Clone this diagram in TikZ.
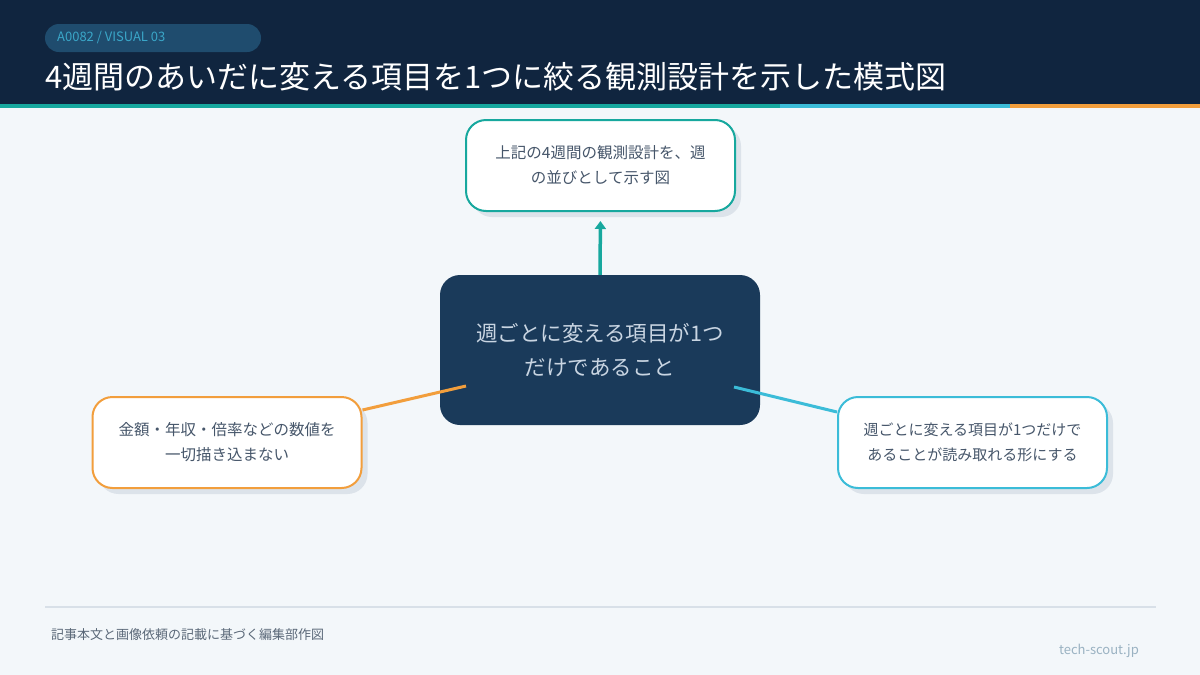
\documentclass[tikz,border=0pt]{standalone}
\usepackage{fontspec}
\setmainfont{Noto Sans CJK JP}
\usetikzlibrary{arrows.meta,shadows}
\definecolor{bgc}{HTML}{F3F7FA}
\definecolor{headc}{HTML}{10253F}
\definecolor{badgec}{HTML}{1F4C6E}
\definecolor{badgetxt}{HTML}{3AA6C8}
\definecolor{tealc}{HTML}{17A89E}
\definecolor{bluec}{HTML}{3BBCD8}
\definecolor{orangec}{HTML}{F29E3C}
\definecolor{navyc}{HTML}{1A3A5A}
\definecolor{centertxt}{HTML}{C9D5E2}
\definecolor{boxtxt}{HTML}{46566A}
\definecolor{shadowc}{HTML}{DCE3EA}
\definecolor{rulec}{HTML}{D8E0E8}
\definecolor{foottxt}{HTML}{5A6878}
\definecolor{sitetxt}{HTML}{9AB2C2}
\tikzset{
  cardbox/.style={draw=#1, line width=2pt, fill=white, rounded corners=20pt,
    minimum width=269pt, minimum height=91pt, align=center, text=boxtxt,
    font=\fontsize{15.5}{25}\selectfont,
    general shadow={fill=shadowc, shadow xshift=6pt, shadow yshift=-6pt}},
  centerbox/.style={fill=navyc, rounded corners=20pt, minimum width=320pt,
    minimum height=150pt, align=center, text=centertxt,
    font=\fontsize{21.5}{34}\selectfont},
  conn/.style={line width=3pt, draw=#1},
}
\begin{document}
\begin{tikzpicture}[x=1pt,y=-1pt]
\useasboundingbox (0,0) rectangle (1200,675);
\fill[bgc] (0,0) rectangle (1200,675);
% header
\fill[headc] (0,0) rectangle (1200,104);
\fill[tealc] (0,104) rectangle (780,108);
\fill[bluec] (780,104) rectangle (1010,108);
\fill[orangec] (1010,104) rectangle (1200,108);
\node[fill=badgec, rounded corners=14pt, minimum width=216pt, minimum height=28pt,
  inner sep=0pt] (badge) at (153,38) {};
\node[anchor=west, text=badgetxt, font=\fontsize{13}{15}\selectfont, inner sep=0pt]
  (badgetext) at (57,38) {A0082 / VISUAL 03};
\node[anchor=base west, text=white, font=\fontsize{31}{36}\selectfont, inner sep=0pt]
  (title) at (45,88) {4週間のあいだに変える項目を1つに絞る観測設計を示した模式図};
% boxes
\node[centerbox] (center) at (600,350) {週ごとに変える項目が1つ\\だけであること};
\node[cardbox=tealc] (top) at (600.5,165.5) {上記の4週間の観測設計を、週\\の並びとして示す図};
\node[cardbox=orangec, font=\fontsize{15.5}{25}\selectfont] (left) at (227,442.5) {金額・年収・倍率などの数値を\\一切描き込まない};
\node[cardbox=bluec, font=\fontsize{15}{25}\selectfont] (right) at (972.5,442.5) {週ごとに変える項目が1つだけで\\あることが読み取れる形にする};
% connectors
\coordinate (cl) at (466,386);
\coordinate (cr) at (734,387);
\draw[conn=tealc, line width=3.5pt, -{Triangle[length=8pt,width=11pt]}, shorten >=9pt] (center.north) -- (top.south);
\draw[conn=orangec] (cl) -- (left.east |- 0,410);
\draw[conn=bluec] (cr) -- (right.west |- 0,412);
% footer
\draw[rulec, line width=2pt] (45,607) coordinate (fa) -- (1156,607) coordinate (fb);
\node[anchor=west, text=foottxt, font=\fontsize{13}{15}\selectfont, inner sep=0pt]
  (foot) at (51,635) {記事本文と画像依頼の記載に基づく編集部作図};
\node[anchor=east, text=sitetxt, font=\fontsize{13}{15}\selectfont, inner sep=0pt]
  (site) at (1139,651) {tech-scout.jp};
\end{tikzpicture}
\end{document}
